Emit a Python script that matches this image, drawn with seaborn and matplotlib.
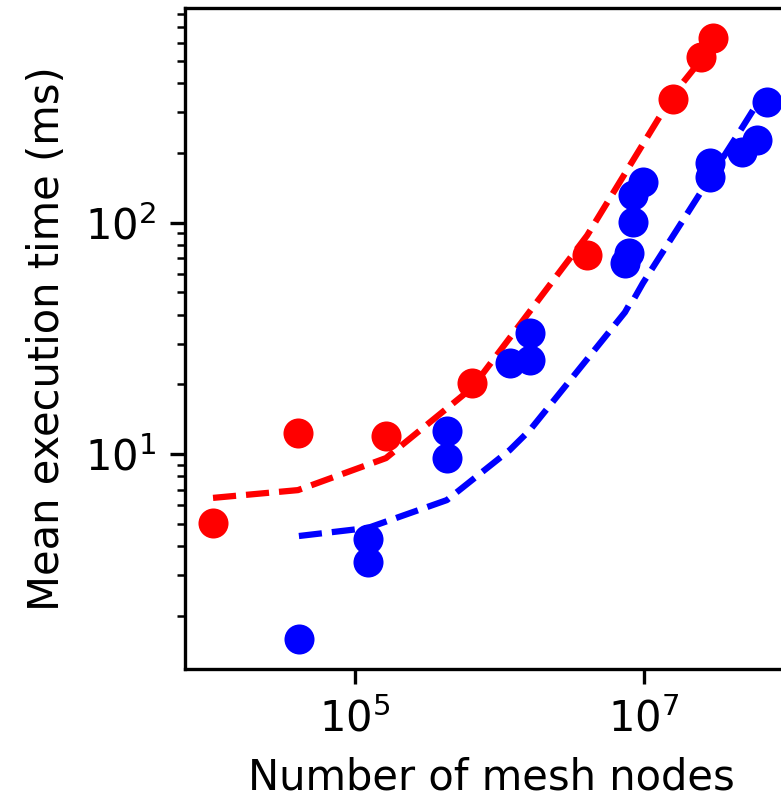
import numpy as np
import pandas as pd
import matplotlib
matplotlib.use("Agg")
import matplotlib.pyplot as plt
import seaborn as sns
from matplotlib.ticker import NullLocator, LogLocator

red_nodes = [1.04e4, 4.03e4, 1.64e5, 6.46e5, 4.05e6, 1.59e7, 2.49e7, 3.01e7]
red_time = [5.03, 12.3, 12.0, 20.3, 72.4, 343, 520, 629]
red_fit = [6.46, 6.98, 9.6, 19.3, 88, 356, 505, 603]

blue_nodes = [4.09e4, 1.23e5, 1.23e5, 4.33e5, 4.33e5, 1.18e6, 1.63e6, 1.63e6,
              7.41e6, 7.9e6, 8.41e6, 8.41e6, 9.86e6, 2.87e7, 2.87e7,
              4.79e7, 6.08e7, 7.13e7]
blue_time = [1.585, 4.29, 3.41, 12.6, 9.6, 24.7, 25.5, 33.3,
             67, 74, 100.7, 132, 150, 158, 181,
             202, 228, 333]

blue_fit_nodes = [4.09e4, 1.23e5, 4.33e5, 1.18e6, 1.63e6, 7.41e6, 7.9e6,
                  8.41e6, 9.86e6, 2.87e7, 4.79e7, 6.08e7, 7.13e7]
blue_fit = [4.42, 4.79, 6.32, 10.4, 12.7, 41, 44, 46, 54.8, 156, 257, 326, 370]

red_df = pd.DataFrame({"nodes": red_nodes, "time": red_time, "fit": red_fit})
blue_df = pd.DataFrame({"nodes": blue_nodes, "time": blue_time})
blue_fit_df = pd.DataFrame({"nodes": blue_fit_nodes, "fit": blue_fit})

fig = plt.figure(figsize=(781 / 300, 793 / 300), dpi=300)
ax = fig.add_axes([185 / 781, 124 / 793, 612 / 781, 661 / 793])

# fitted curves
sns.lineplot(data=red_df, x="nodes", y="fit", ax=ax, color="red",
             linestyle="--", linewidth=1.5, sort=False, estimator=None)
sns.lineplot(data=blue_fit_df, x="nodes", y="fit", ax=ax, color="blue",
             linestyle="--", linewidth=1.5, sort=False, estimator=None)

# measurements
sns.scatterplot(data=red_df, x="nodes", y="time", ax=ax, color="red",
                s=52, linewidth=0, zorder=3)
sns.scatterplot(data=blue_df, x="nodes", y="time", ax=ax, color="blue",
                s=52, linewidth=0, zorder=3)

ax.set_xscale("log")
ax.set_yscale("log")
ax.set_xlim(10 ** 3.823, 10 ** 8.061)
ax.set_ylim(10 ** 0.0705, 10 ** 2.928)

ax.set_xticks([1e5, 1e7])
ax.xaxis.set_minor_locator(NullLocator())
ax.yaxis.set_major_locator(LogLocator(base=10, numticks=10))
ax.yaxis.set_minor_locator(LogLocator(base=10, subs=np.arange(2, 10), numticks=20))

ax.tick_params(labelsize=10)
ax.set_xlabel("Number of mesh nodes", fontsize=10)
ax.set_ylabel("Mean execution time (ms)", fontsize=10)

fig.savefig("out.png", dpi=300)
